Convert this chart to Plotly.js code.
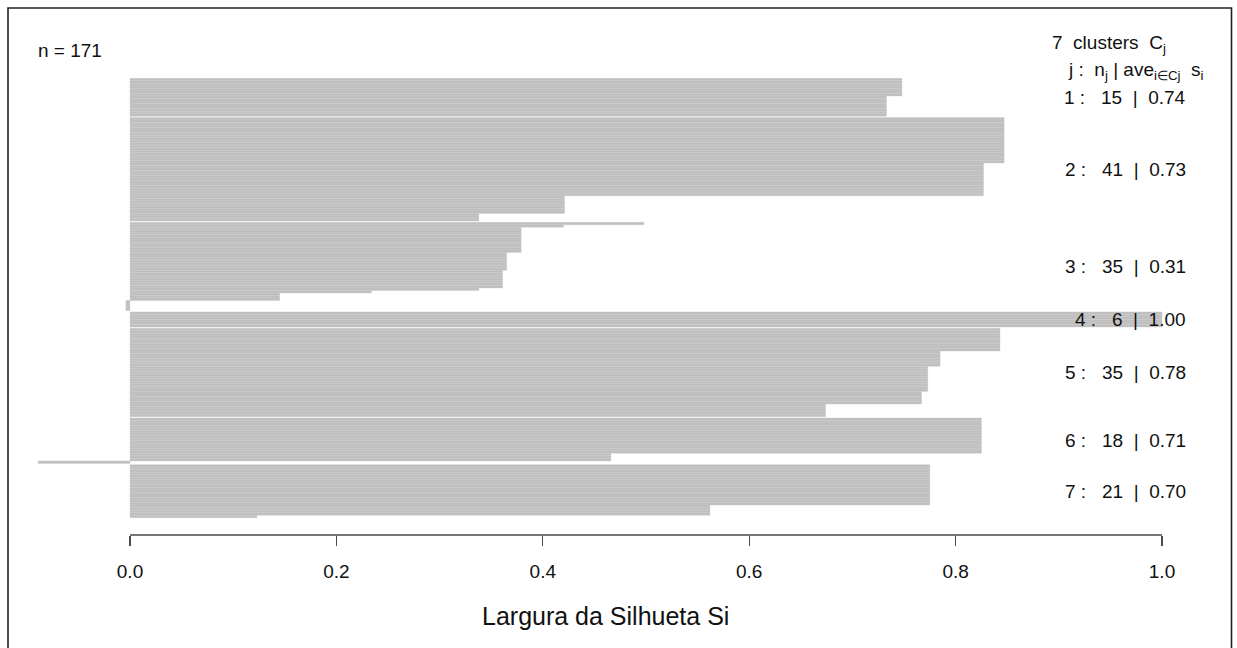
<!DOCTYPE html>
<html>
<head>
<meta charset="utf-8">
<script src="https://cdn.plot.ly/plotly-3.0.1.min.js"></script>
<style>
  html, body { margin: 0; padding: 0; background: #ffffff; }
  #chart { width: 1237px; height: 648px; }
</style>
</head>
<body>
<div id="chart"></div>
<script>
// Silhouette widths s(i), sorted from largest to smallest inside each cluster
const cluster1 = [0.748, 0.748, 0.748, 0.748, 0.748, 0.748, 0.748,
                  0.733, 0.733, 0.733, 0.733, 0.733, 0.733, 0.733, 0.733];
const cluster2 = [0.847, 0.847, 0.847, 0.847, 0.847, 0.847, 0.847, 0.847, 0.847,
                  0.847, 0.847, 0.847, 0.847, 0.847, 0.847, 0.847, 0.847, 0.847,
                  0.827, 0.827, 0.827, 0.827, 0.827, 0.827, 0.827, 0.827, 0.827,
                  0.827, 0.827, 0.827, 0.827,
                  0.421, 0.421, 0.421, 0.421, 0.421, 0.421, 0.421,
                  0.338, 0.338, 0.338];
const cluster3 = [0.498, 0.420,
                  0.379, 0.379, 0.379, 0.379, 0.379, 0.379, 0.379, 0.379, 0.379, 0.379,
                  0.365, 0.365, 0.365, 0.365, 0.365, 0.365, 0.365,
                  0.361, 0.361, 0.361, 0.361, 0.361, 0.361, 0.361,
                  0.338, 0.234,
                  0.145, 0.145, 0.145,
                  -0.004, -0.004, -0.004, -0.004];
const cluster4 = [1.000, 1.000, 1.000, 1.000, 1.000, 1.000];
const cluster5 = [0.843, 0.843, 0.843, 0.843, 0.843, 0.843, 0.843, 0.843, 0.843,
                  0.785, 0.785, 0.785, 0.785, 0.785, 0.785,
                  0.773, 0.773, 0.773, 0.773, 0.773, 0.773, 0.773, 0.773, 0.773, 0.773,
                  0.767, 0.767, 0.767, 0.767, 0.767,
                  0.674, 0.674, 0.674, 0.674, 0.674];
const cluster6 = [0.825, 0.825, 0.825, 0.825, 0.825, 0.825, 0.825,
                  0.825, 0.825, 0.825, 0.825, 0.825, 0.825, 0.825,
                  0.466, 0.466, 0.466,
                  -0.089];
const cluster7 = [0.775, 0.775, 0.775, 0.775, 0.775, 0.775, 0.775, 0.775,
                  0.775, 0.775, 0.775, 0.775, 0.775, 0.775, 0.775, 0.775,
                  0.562, 0.562, 0.562, 0.562,
                  0.123];

const clusterIds = [1, 2, 3, 4, 5, 6, 7];
const clusters = [cluster1, cluster2, cluster3, cluster4, cluster5, cluster6, cluster7];

const tickVals = [0, 0.2, 0.4, 0.6, 0.8, 1.0];
const tickText = ['0.0', '0.2', '0.4', '0.6', '0.8', '1.0'];
const xTitle = 'Largura da Silhueta Si';

// Bars are one unit tall, touching inside a cluster, with half a unit between clusters
const CLUSTER_GAP = 0.5;
const barX = [], barY = [];
const clusterMid = [], clusterN = [], clusterAve = [];
let pos = 0;
clusters.forEach((vals, k) => {
  const start = pos;
  vals.forEach(v => { barX.push(v); barY.push(pos + 0.5); pos += 1; });
  clusterMid.push((start + pos) / 2);
  clusterN.push(vals.length);
  clusterAve.push(vals.reduce((a, b) => a + b, 0) / vals.length);
  pos += CLUSTER_GAP;
});
const totalN = barX.length;

const FONT = '"Liberation Sans", Arial, Helvetica, sans-serif';
const TXT = '#111111';
const NB = '\u00a0';
const sp = n => NB.repeat(n);

const annotations = [];
clusterIds.forEach((id, k) => {
  annotations.push({
    xref: 'x', yref: 'y', x: 1.0255, y: clusterMid[k],
    xanchor: 'right', yanchor: 'middle', showarrow: false,
    text: id + sp(1) + ':' + sp(3) + clusterN[k] + sp(2) + '|' + sp(2) + clusterAve[k].toFixed(2),
    font: { family: FONT, size: 19, color: TXT }
  });
});
annotations.push({
  xref: 'x', yref: 'y', x: -0.0915, y: -11.2,
  xanchor: 'left', yanchor: 'middle', showarrow: false,
  text: 'n = ' + totalN,
  font: { family: FONT, size: 19, color: TXT }
});
annotations.push({
  xref: 'x', yref: 'y', x: 1.0055, y: -13.4,
  xanchor: 'right', yanchor: 'middle', showarrow: false,
  text: clusters.length + sp(2) + 'clusters' + sp(2) + 'C<sub>j</sub>',
  font: { family: FONT, size: 19, color: TXT }
});
annotations.push({
  xref: 'x', yref: 'y', x: 1.0425, y: -2.8,
  xanchor: 'right', yanchor: 'middle', showarrow: false,
  text: 'j' + sp(1) + ':' + sp(2) + 'n<sub>j</sub>' + sp(1) + '|' + sp(1) +
        'ave<sub>i\u2208Cj</sub>' + sp(2) + 's<sub>i</sub>',
  font: { family: FONT, size: 19, color: TXT }
});
annotations.push({
  xref: 'x', yref: 'paper', x: 0.4607, y: -0.157,
  xanchor: 'center', yanchor: 'middle', showarrow: false,
  text: xTitle,
  font: { family: FONT, size: 25, color: TXT }
});

const data = [{
  type: 'bar',
  orientation: 'h',
  x: barX,
  y: barY,
  width: 1,
  marker: { color: '#bfbfbf', line: { width: 0.4, color: '#cacaca' } },
  hoverinfo: 'x'
}];

const layout = {
  width: 1237,
  height: 648,
  margin: { l: 26, r: 23, t: 20, b: 113 },
  paper_bgcolor: '#ffffff',
  plot_bgcolor: '#ffffff',
  showlegend: false,
  bargap: 0,
  xaxis: {
    range: [-0.100775, 1.050388],
    tickvals: tickVals,
    ticktext: tickText,
    ticks: 'outside',
    ticklen: 10,
    tickwidth: 1.3,
    tickcolor: '#4a4a4a',
    ticklabelstandoff: 9,
    tickfont: { family: FONT, size: 19, color: TXT },
    showgrid: false,
    zeroline: false,
    showline: false
  },
  yaxis: {
    range: [180.85, -23.09],
    showticklabels: false,
    showgrid: false,
    zeroline: false,
    showline: false,
    ticks: ''
  },
  shapes: [
    // axis line spans the tick range only
    { type: 'line', xref: 'x', yref: 'paper', x0: 0, x1: 1, y0: 0, y1: 0,
      line: { color: '#4a4a4a', width: 1.3 } },
    // outer frame
    { type: 'rect', xref: 'paper', yref: 'paper',
      x0: -0.01515, x1: 1.01473, y0: 1.0233, y1: -0.25,
      line: { color: '#222222', width: 1.6 }, fillcolor: 'rgba(0,0,0,0)' }
  ],
  annotations: annotations
};

Plotly.newPlot('chart', data, layout, { staticPlot: true, displayModeBar: false });
</script>
</body>
</html>
